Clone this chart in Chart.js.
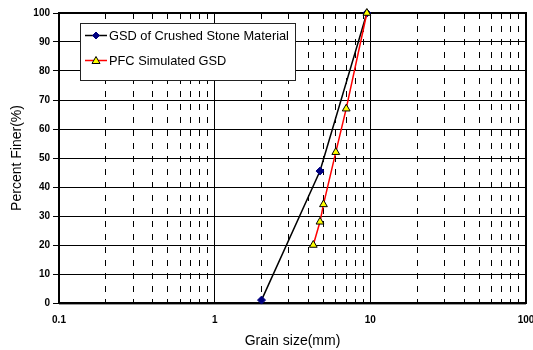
<!DOCTYPE html>
<html><head><meta charset="utf-8">
<script src="https://cdn.jsdelivr.net/npm/chart.js@4.4.0/dist/chart.umd.min.js"></script>
<style>html,body{margin:0;padding:0;background:#fff}#wrap{width:533px;height:350px;position:relative}</style>
</head><body><div id="wrap"><canvas id="c" width="533" height="350"></canvas></div>
<script>
// ---- data ----
const seriesNames = ['GSD of Crushed Stone Material', 'PFC Simulated GSD'];
const crushedSize  = [2, 4.75, 9.5];
const crushedFiner = [1, 45.5, 100];
const pfcSize  = [4.3, 4.75, 5, 6, 7, 9.5];
const pfcFiner = [20, 28, 34, 52, 67, 100];
const xTickLabels = [0.1, 1, 10, 100];
const xGridValues = [0.1,0.2,0.3,0.4,0.5,0.6,0.7,0.8,0.9,1,2,3,4,5,6,7,8,9,10,20,30,40,50,60,70,80,90,100];
const yTickValues = [0,10,20,30,40,50,60,70,80,90,100];
const xTitle = 'Grain size(mm)';
const yTitle = 'Percent Finer(%)';

const FONT = 'Liberation Sans, Arial, sans-serif';
const isDecade = v => { const l = Math.log10(v); return Math.abs(l - Math.round(l)) < 1e-9; };
const toPts = (xs, ys) => xs.map((x, i) => ({x: x, y: ys[i]}));

const framePlugin = {
  id: 'frame',
  beforeDatasetsDraw(chart) {
    const {ctx, chartArea: a} = chart;
    ctx.save();
    ctx.strokeStyle = '#000';
    ctx.lineWidth = 2;
    ctx.strokeRect(a.left, a.top, a.right - a.left, a.bottom - a.top);
    ctx.strokeStyle = '#999';
    ctx.lineWidth = 1;
    ctx.beginPath(); ctx.moveTo(a.left, a.bottom + 1.5); ctx.lineTo(a.right, a.bottom + 1.5); ctx.stroke();
    ctx.restore();
  }
};

const legendPlugin = {
  id: 'boxLegend',
  afterDraw(chart) {
    const {ctx, chartArea: a} = chart;
    const ds = chart.data.datasets;
    const bx = a.left + 21, by = a.top + 10, bw = 215, bh = 57;
    ctx.save();
    ctx.fillStyle = '#fff';
    ctx.fillRect(bx, by, bw, bh);
    ctx.strokeStyle = '#222';
    ctx.lineWidth = 1;
    ctx.strokeRect(bx + 0.5, by + 0.5, bw, bh);
    ctx.font = '12.8px ' + FONT;
    ctx.textBaseline = 'middle';
    const rows = [by + 12.5, by + 37.5];
    [0, 1].forEach(i => {
      const d = ds[i], y = rows[i];
      ctx.strokeStyle = d.borderColor; ctx.lineWidth = d.borderWidth;
      ctx.beginPath(); ctx.moveTo(bx + 5, y); ctx.lineTo(bx + 27, y); ctx.stroke();
      const cx = bx + 16;
      ctx.fillStyle = d.pointBackgroundColor; ctx.strokeStyle = d.pointBorderColor; ctx.lineWidth = 1;
      ctx.beginPath();
      if (d.pointStyle === 'rectRot') {
        const r = 3.5;
        ctx.moveTo(cx, y - r); ctx.lineTo(cx + r, y); ctx.lineTo(cx, y + r); ctx.lineTo(cx - r, y); ctx.closePath();
      } else {
        const r = 4;
        ctx.moveTo(cx, y - r); ctx.lineTo(cx + r, y + r * 0.75); ctx.lineTo(cx - r, y + r * 0.75); ctx.closePath();
      }
      ctx.fill(); ctx.stroke();
      ctx.fillStyle = '#000';
      ctx.fillText(d.label, bx + 29, y + 0.5);
    });
    ctx.restore();
  }
};

new Chart(document.getElementById('c'), {
  type: 'scatter',
  data: {
    datasets: [
      {
        label: seriesNames[0], data: toPts(crushedSize, crushedFiner), showLine: true,
        borderColor: '#000', borderWidth: 1.5, tension: 0, order: 1, clip: 10,
        pointStyle: 'rectRot', pointRadius: 4, pointBackgroundColor: '#000080', pointBorderColor: '#000080', pointBorderWidth: 1
      },
      {
        label: seriesNames[1], data: toPts(pfcSize, pfcFiner), showLine: true,
        borderColor: '#ff0000', borderWidth: 1.5, tension: 0, order: 0, clip: 10,
        pointStyle: 'triangle', pointRadius: 4.5, pointBackgroundColor: '#ffff00', pointBorderColor: '#000', pointBorderWidth: 1
      }
    ]
  },
  options: {
    responsive: false, animation: false, devicePixelRatio: 1,
    layout: {padding: {top: 13, right: 7, left: 0, bottom: 0}},
    plugins: {legend: {display: false}, tooltip: {enabled: false}},
    scales: {
      x: {
        type: 'logarithmic', position: 'bottom', min: 0.1, max: 100,
        afterBuildTicks: s => { s.ticks = xGridValues.map(v => ({value: v, major: isDecade(v)})); },
        afterFit: s => { s.height = 47; s.paddingLeft = 0; s.paddingRight = 0; },
        ticks: {
          autoSkip: false, maxRotation: 0, minRotation: 0, padding: 11, color: '#000',
          font: {family: FONT, size: 10, weight: 'bold'},
          callback: v => (xTickLabels.some(t => Math.abs(t - v) < 1e-9) ? String(v) : '')
        },
        grid: {color: '#000', lineWidth: 1, drawTicks: false},
        border: {display: false, dash: c => (c.tick && !isDecade(c.tick.value) ? [6, 7] : [])},
        title: {display: true, text: xTitle, color: '#000', font: {family: FONT, size: 14}, padding: {top: 0, bottom: 0}}
      },
      y: {
        type: 'linear', min: 0, max: 100,
        afterBuildTicks: s => { s.ticks = yTickValues.map(v => ({value: v})); },
        afterFit: s => { s.width = 59; s.paddingTop = 0; s.paddingBottom = 0; },
        ticks: {padding: 3, color: '#000', font: {family: FONT, size: 10, weight: 'bold'}},
        grid: {color: '#000', lineWidth: 1, drawTicks: true, tickLength: 6, tickColor: '#000'},
        border: {display: false},
        title: {display: true, text: yTitle, color: '#000', font: {family: FONT, size: 14}, padding: {top: 9, bottom: 0}}
      }
    }
  },
  plugins: [framePlugin, legendPlugin]
});
</script></body></html>
